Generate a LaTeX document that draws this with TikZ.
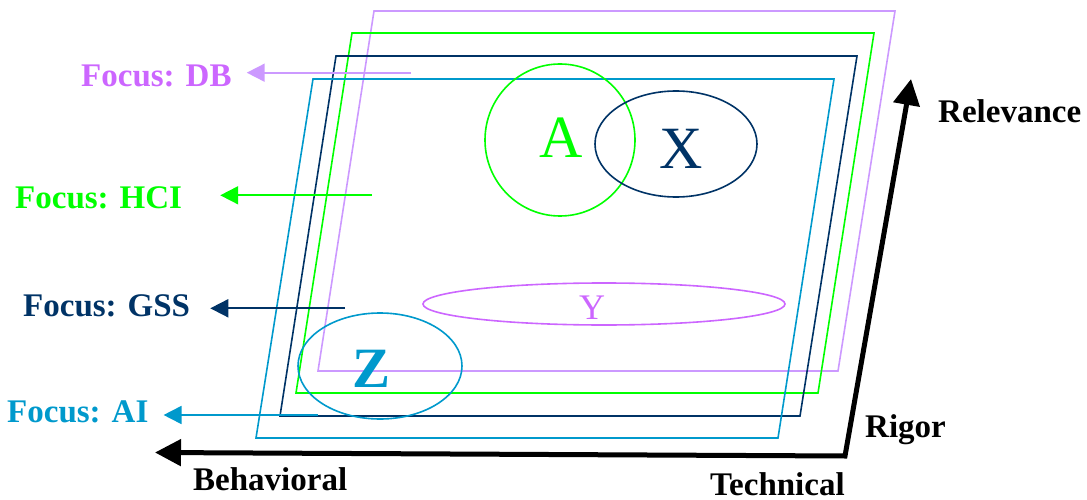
\documentclass[tikz,border=0pt]{standalone}
\usepackage{fontspec}
\setmainfont{Liberation Serif}
\usetikzlibrary{positioning, arrows.meta}
\definecolor{dbpurple}{RGB}{204, 153, 255}
\definecolor{dbviolet}{RGB}{204, 102, 255}
\definecolor{hcigreen}{RGB}{0, 255, 0}
\definecolor{gssnavy}{RGB}{0, 51, 102}
\definecolor{aicyan}{RGB}{0, 153, 204}

\begin{document}
\begin{tikzpicture}[x=1pt, y=-1pt,
    plane/.style={line width=1.6pt, line join=miter},
    focus/.style={font=\fontsize{33}{36}\selectfont\bfseries, inner sep=0pt, anchor=base west},
    axislabel/.style={font=\fontsize{33}{36}\selectfont\bfseries, inner sep=0pt, anchor=base west},
    letter/.style={font=\fontsize{60}{60}\selectfont, inner sep=0pt},
    arr/.style={-{Triangle[length=18pt, width=18pt]}, line width=1.8pt, shorten >=15pt},
    axis/.style={{Triangle[length=26pt, width=26pt]}-{Triangle[length=26pt, width=26pt]},
                 line width=5pt, line join=miter}
  ]
  \useasboundingbox (0,0) rectangle (1087,500);

  % Planes, back to front
  \draw[plane, dbpurple] (374,11) -- (895,11) -- (838,371) -- (318,371) -- cycle;
  \draw[plane, hcigreen] (352,33) -- (874,33) -- (818,393) -- (296,393) -- cycle;
  \draw[plane, gssnavy] (336,56) -- (857,56) -- (800,416) -- (280,416) -- cycle;
  \draw[plane, aicyan] (313,79) -- (834,79) -- (778,438) -- (256,438) -- cycle;

  % Sets
  \draw[plane, hcigreen] (560,140) ellipse [x radius=75pt, y radius=76pt];
  \draw[plane, gssnavy] (676,144) ellipse [x radius=81pt, y radius=53pt];
  \draw[plane, dbviolet] (604,304) ellipse [x radius=181pt, y radius=21pt];
  \draw[plane, aicyan] (380,366) ellipse [x radius=82pt, y radius=53pt];

  \node[letter, text=hcigreen] (ltrA) at (561,138) {A};
  \node[letter, text=gssnavy] (ltrX) at (681,149) {X};
  \node[letter, text=dbviolet, font=\fontsize{36}{36}\selectfont] (ltrY) at (592,308) {Y};
  \node[letter, text=aicyan, font=\fontsize{57}{57}\selectfont\bfseries] (ltrZ) at (372,369) {Z};

  % Focus labels
  \node[focus, text=dbviolet] (dblabel) at (81,86.7) {Focus: DB};
  \node[focus, text=hcigreen] (hcilabel) at (15,208) {Focus: HCI};
  \node[focus, text=gssnavy] (gsslabel) at (23,316.7) {Focus: GSS};
  \node[focus, text=aicyan] (ailabel) at (7,422.7) {Focus: AI};

  \coordinate (dbstart) at (411,72.7);
  \coordinate (hcistart) at (372,195.3);
  \coordinate (gssstart) at (345,308.3);
  \coordinate (aistart) at (318,415);

  \draw[arr, dbpurple] (dbstart) -- (dbstart -| dblabel.east);
  \draw[arr, hcigreen, shorten >=38pt] (hcistart) -- (hcistart -| hcilabel.east);
  \draw[arr, gssnavy, shorten >=20pt] (gssstart) -- (gssstart -| gsslabel.east);
  \draw[arr, aicyan] (aistart) -- (aistart -| ailabel.east);

  % Axes
  \coordinate (origin) at (845,456);
  \coordinate (behavend) at (155,452.5);
  \coordinate (relevend) at (911,79);
  \draw[axis] (behavend) -- (origin) -- (relevend);

  \node[axislabel] (relevance) at (938,123) {Relevance};
  \node[axislabel] (rigor) at (865,437) {Rigor};
  \node[axislabel] (technical) at (710,495) {Technical};
  \node[axislabel] (behavioral) at (193,490) {Behavioral};
\end{tikzpicture}
\end{document}
